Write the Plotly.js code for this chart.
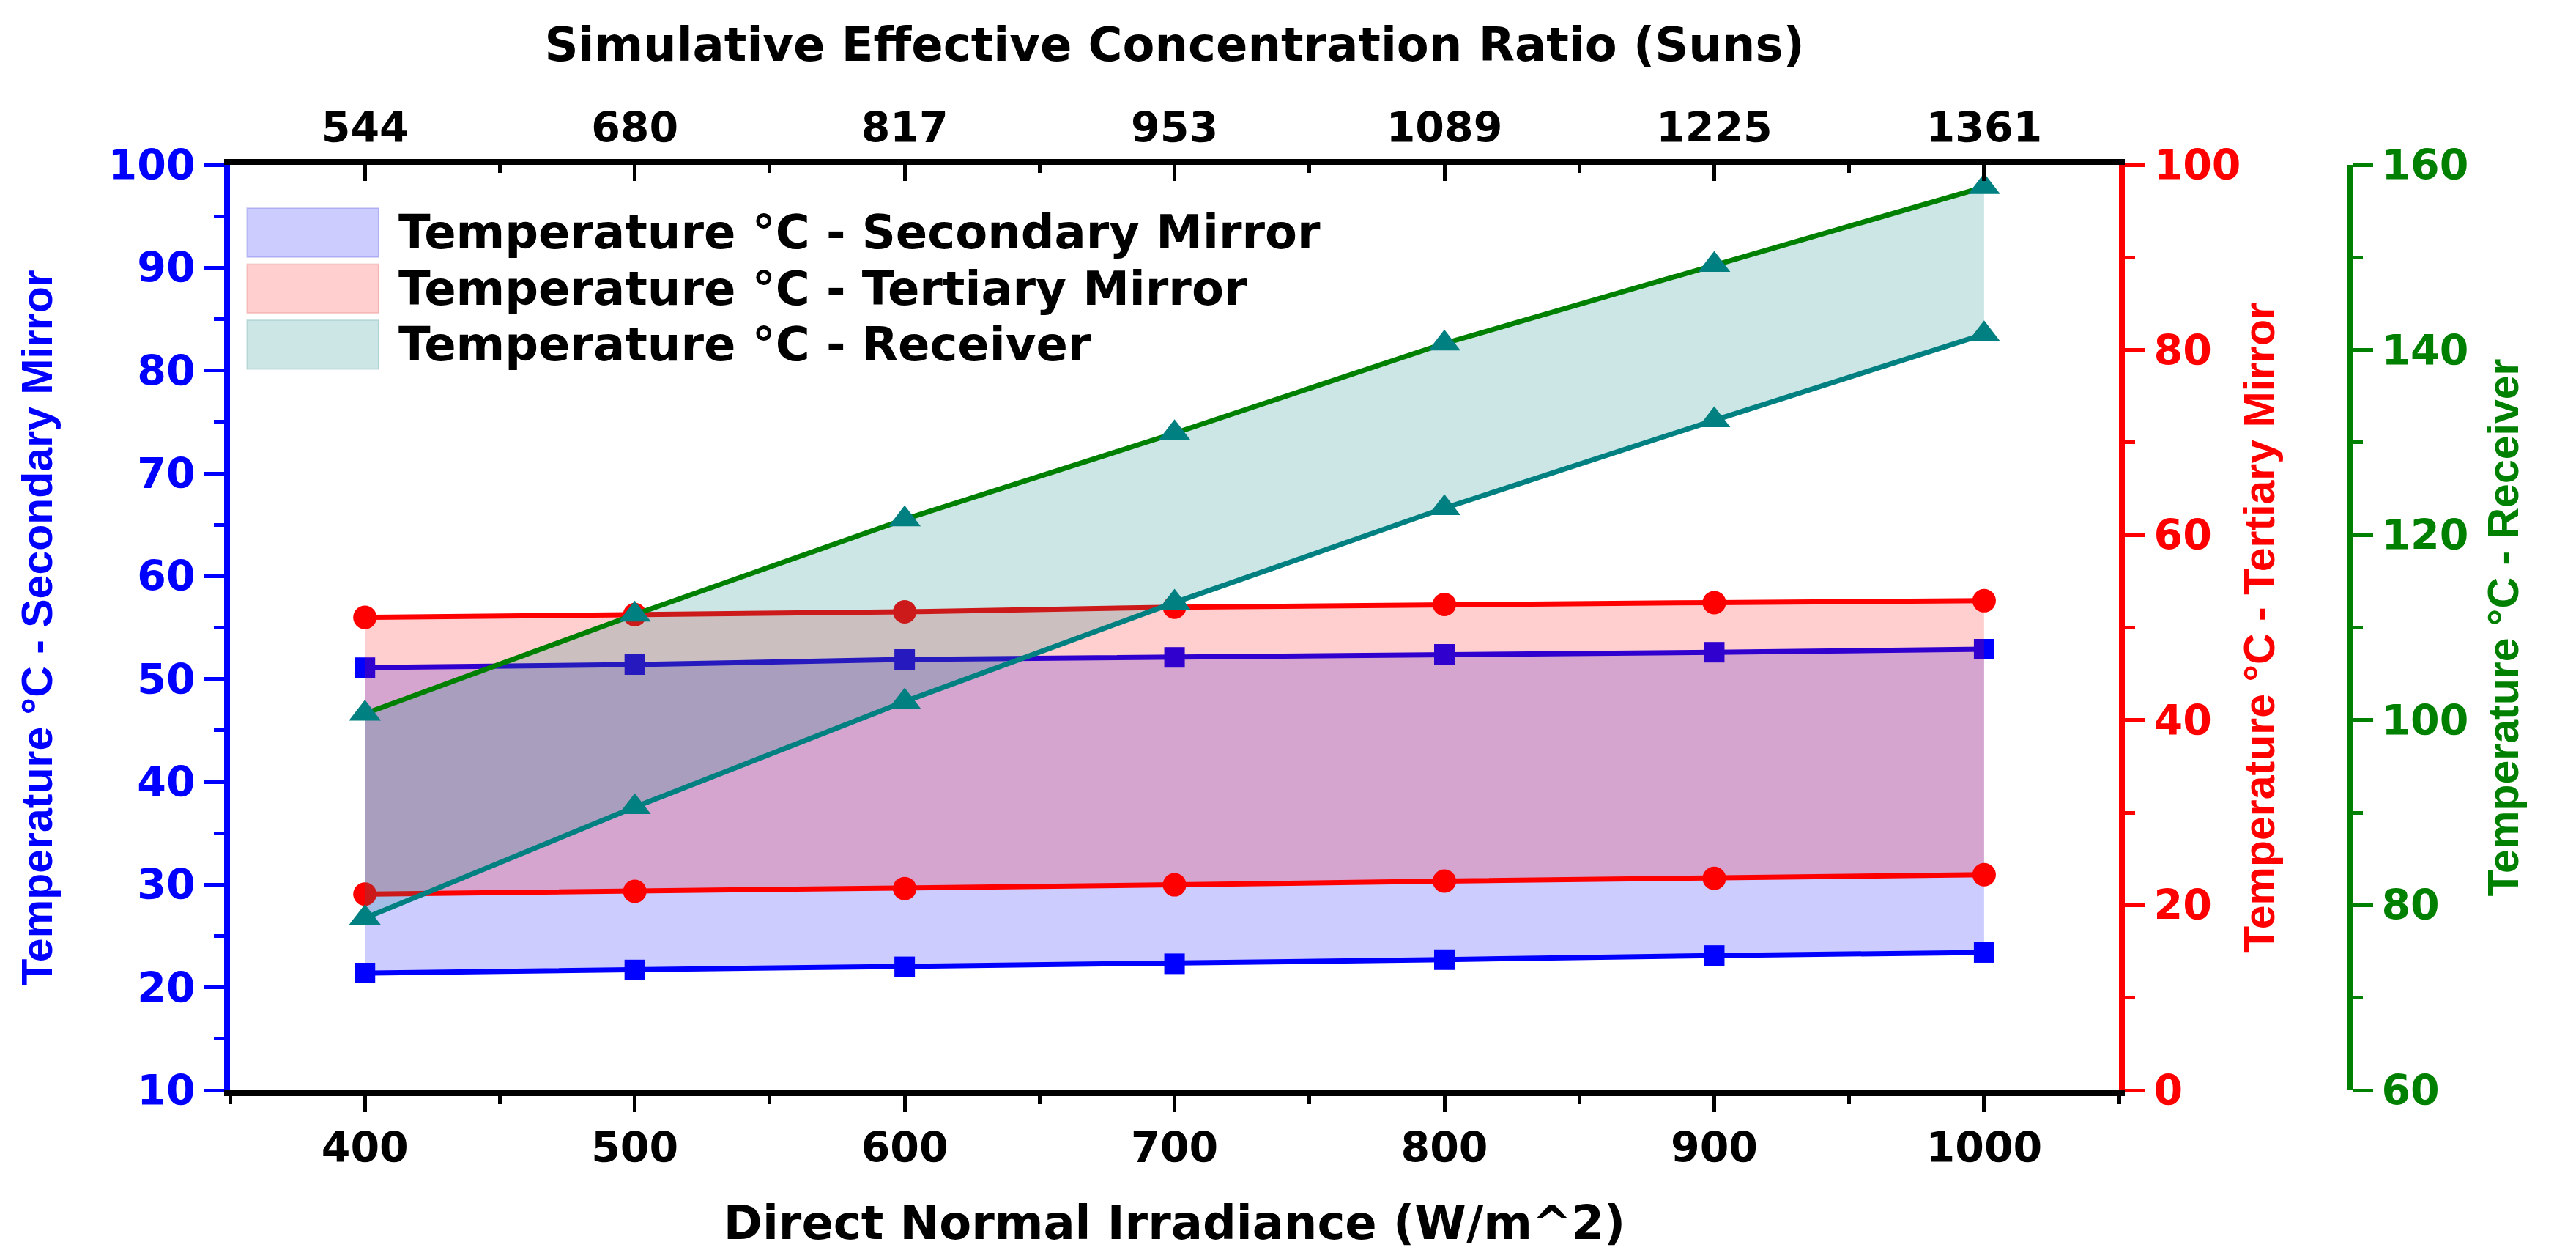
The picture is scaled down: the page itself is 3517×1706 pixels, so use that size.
<!DOCTYPE html>
<html>
<head>
<meta charset="utf-8">
<script src="https://cdn.plot.ly/plotly-3.0.1.min.js"></script>
<style>
  html, body { margin: 0; padding: 0; background: #ffffff; }
  #chart { width: 3517px; height: 1706px; }
</style>
</head>
<body>
<div id="chart"></div>
<script>
// x values (W/m^2) and the matching concentration ratio shown on the top axis
const dni = [400, 500, 600, 700, 800, 900, 1000];
const suns = ["544", "680", "817", "953", "1089", "1225", "1361"];

// secondary mirror, left axis
const secLow = [21.4, 21.7, 22.0, 22.3, 22.7, 23.1, 23.4];
const secHigh = [51.1, 51.4, 51.9, 52.1, 52.4, 52.6, 52.9];

// tertiary mirror, red axis
const terLow = [21.2, 21.5, 21.8, 22.2, 22.6, 22.9, 23.3];
const terHigh = [51.1, 51.4, 51.7, 52.2, 52.5, 52.7, 52.9];

// receiver, green axis
const recLow = [78.6, 90.6, 102.0, 112.7, 122.9, 132.4, 141.7];
const recHigh = [100.7, 111.4, 121.7, 131.0, 140.7, 149.2, 157.6];

const names = [
  "Temperature °C - Secondary Mirror",
  "Temperature °C - Tertiary Mirror",
  "Temperature °C - Receiver",
];

const BLUE = "#0000ff";
const RED = "#ff0000";
const GREEN = "#008000";
const TEAL = "#008080";
const fills = ["rgba(0,0,255,0.2)", "rgba(255,0,0,0.19)", "rgba(0,128,128,0.2)"];
const boxEdges = ["rgba(0,0,200,0.15)", "rgba(200,0,0,0.15)", "rgba(0,100,100,0.15)"];

function line(y, axis, color, symbol, mcolor, size, name) {
  return {
    x: dni, y: y, yaxis: axis, name: name,
    type: "scatter", mode: "lines+markers",
    line: { color: color, width: 7 },
    marker: { symbol: symbol, color: mcolor, size: size },
    showlegend: false,
  };
}

function band(low, high, axis, fillcolor, name) {
  return {
    x: dni, y: high, yaxis: axis, name: name,
    type: "scatter", mode: "none",
    fill: "tonexty", fillcolor: fillcolor,
    showlegend: false, hoverinfo: "skip",
  };
}

let data = [
  line(secLow, "y", BLUE, "square", BLUE, 28, names[0]),
  band(secLow, secHigh, "y", fills[0], names[0]),
  line(secHigh, "y", BLUE, "square", BLUE, 28, names[0]),

  line(terLow, "y2", RED, "circle", RED, 32, names[1]),
  band(terLow, terHigh, "y2", fills[1], names[1]),
  line(terHigh, "y2", RED, "circle", RED, 32, names[1]),

  line(recLow, "y3", TEAL, "triangle-up", TEAL, 38, names[2]),
  band(recLow, recHigh, "y3", fills[2], names[2]),
  line(recHigh, "y3", GREEN, "triangle-up", TEAL, 38, names[2]),

  // carries the top (concentration ratio) axis
  {
    x: dni, y: secLow, xaxis: "x2", yaxis: "y",
    type: "scatter", mode: "markers",
    marker: { opacity: 0 }, showlegend: false, hoverinfo: "skip",
  },
];

// legend drawn as boxes + text inside the plot, top-left
let shapes = [];
let annotations = [];
const rowTop = 0.9533, rowStep = 0.0605, boxH = 0.053;
names.forEach((n, i) => {
  let top = rowTop - i * rowStep;
  shapes.push({
    type: "rect", xref: "x domain", yref: "y domain",
    x0: 0.009, x1: 0.0787, y0: top - boxH, y1: top,
    fillcolor: fills[i], line: { color: boxEdges[i], width: 2 }, layer: "above",
  });
  annotations.push({
    xref: "x domain", yref: "y domain",
    x: 0.0885, y: top - boxH / 2, xanchor: "left", yanchor: "middle",
    text: n, showarrow: false,
    font: { family: "DejaVu Sans", size: 64, color: "#000000", weight: "bold" },
  });
});

const tickF = { family: "DejaVu Sans", size: 57, weight: "bold" };
const titleF = { family: "DejaVu Sans", size: 64, weight: "bold", color: "#000000" };
const sideF = (c) => ({ family: "Liberation Sans", size: 59, weight: "bold", color: c });

let layout = {
  width: 3517,
  height: 1706,
  paper_bgcolor: "#ffffff",
  plot_bgcolor: "#ffffff",
  font: { family: "DejaVu Sans", size: 57, color: "#000000", weight: "bold" },
  margin: { l: 314, r: 309, t: 225, b: 218, pad: 0 },
  showlegend: false,
  xaxis: {
    domain: [0, 0.8912],
    range: [350, 1050],
    tick0: 0, dtick: 100,
    ticks: "outside", ticklen: 22, tickwidth: 5, tickcolor: "#000000",
    minor: { ticks: "outside", ticklen: 11, tickwidth: 5, dtick: 50, tickcolor: "#000000" },
    showline: true, linecolor: "#000000", linewidth: 8,
    showgrid: false, zeroline: false,
    tickfont: tickF,
    title: { text: "Direct Normal Irradiance (W/m^2)", font: titleF, standoff: 58 },
  },
  xaxis2: {
    overlaying: "x", side: "top", anchor: "y",
    range: [350, 1050],
    tickmode: "array", tickvals: dni, ticktext: suns,
    ticks: "inside", ticklen: 22, tickwidth: 5, tickcolor: "#000000",
    minor: { ticks: "inside", ticklen: 11, tickwidth: 5, tickmode: "linear", tick0: 50, dtick: 100, tickcolor: "#000000" },
    showline: true, linecolor: "#000000", linewidth: 8,
    showgrid: false, zeroline: false,
    tickfont: tickF,
    title: { text: "Simulative Effective Concentration Ratio (Suns)", font: titleF, standoff: 40 },
  },
  yaxis: {
    range: [10, 100], dtick: 10,
    color: BLUE,
    ticks: "outside", ticklen: 28, tickwidth: 5,
    minor: { ticks: "outside", ticklen: 14, tickwidth: 5, dtick: 5 },
    showline: true, linewidth: 8,
    showgrid: false, zeroline: false,
    tickfont: Object.assign({}, tickF, { color: BLUE }),
    title: { text: names[0], font: sideF(BLUE), standoff: 60 },
  },
  yaxis2: {
    overlaying: "y", side: "right", anchor: "x",
    range: [0, 100], dtick: 20,
    color: RED,
    ticks: "outside", ticklen: 28, tickwidth: 5,
    minor: { ticks: "outside", ticklen: 14, tickwidth: 5, dtick: 10 },
    showline: true, linewidth: 8,
    showgrid: false, zeroline: false,
    tickfont: Object.assign({}, tickF, { color: RED }),
    title: { text: names[1], font: sideF(RED), standoff: 8 },
  },
  yaxis3: {
    overlaying: "y", side: "right", anchor: "free", position: 1,
    range: [60, 160], dtick: 20,
    color: GREEN,
    ticks: "outside", ticklen: 28, tickwidth: 5,
    minor: { ticks: "outside", ticklen: 14, tickwidth: 5, dtick: 10 },
    showline: true, linewidth: 8,
    showgrid: false, zeroline: false,
    tickfont: Object.assign({}, tickF, { color: GREEN }),
    title: { text: names[2], font: sideF(GREEN), standoff: 26 },
  },
  shapes: shapes,
  annotations: annotations,
};

Plotly.newPlot("chart", data, layout, {
  displaylogo: false,
  displayModeBar: false,
  staticPlot: true,
});
</script>
</body>
</html>
